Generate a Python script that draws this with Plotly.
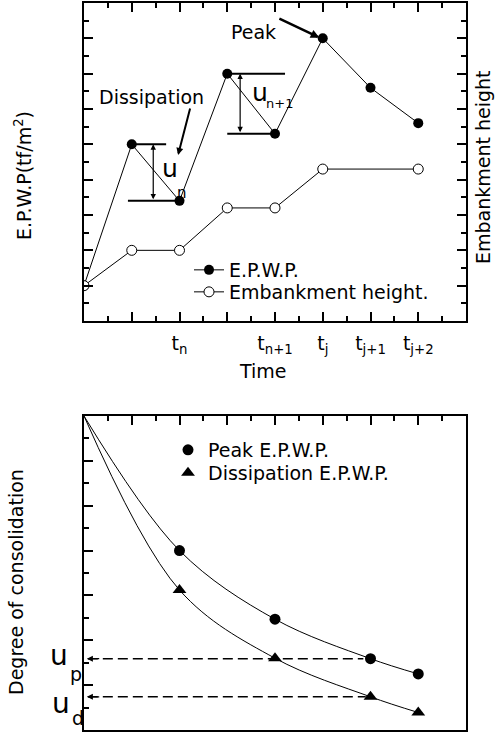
import plotly.graph_objects as go

# ---------------- data ----------------
# top chart: excess pore water pressure and embankment height vs time step
time_idx = [0, 1, 2, 3, 4, 5, 6, 7]
epwp = [1.0, 5.0, 3.4, 7.0, 5.3, 8.0, 6.6, 5.6]
emb_time = [0, 1, 2, 3, 4, 5, 7]
emb_height = [1.0, 2.0, 2.0, 3.2, 3.2, 4.3, 4.3]
tick_pos = [1, 2, 3, 4, 5, 6, 7]
tick_text = ["", "t<sub>n</sub>", "", "t<sub>n+1</sub>", "t<sub>j</sub>",
             "t<sub>j+1</sub>", "t<sub>j+2</sub>"]

# bottom chart: degree of consolidation
cons_time = [0, 2, 4, 6, 7]
peak_cons = [7.0, 4.0, 2.47, 1.59, 1.25]
diss_cons = [7.0, 3.12, 1.60, 0.74, 0.39]

FONT = "DejaVu Sans"
W, H = 496, 732


def px(x):
    return x / W


def py(y):
    return 1 - y / H


fig = go.Figure()

# ---- top chart traces ----
fig.add_trace(go.Scatter(
    x=time_idx, y=epwp, mode="lines+markers", name="E.P.W.P.",
    line=dict(color="black", width=1),
    marker=dict(symbol="circle", size=10, color="black"),
    xaxis="x", yaxis="y", legend="legend"))
fig.add_trace(go.Scatter(
    x=emb_time, y=emb_height, mode="lines+markers", name="Embankment height.",
    line=dict(color="black", width=1),
    marker=dict(symbol="circle", size=10, color="white",
                line=dict(color="black", width=1)),
    xaxis="x", yaxis="y", legend="legend3"))

# ---- bottom chart traces ----
fig.add_trace(go.Scatter(
    x=cons_time, y=peak_cons, mode="lines",
    line=dict(color="black", width=1, shape="spline", smoothing=1.0),
    showlegend=False, xaxis="x2", yaxis="y2", hoverinfo="skip"))
fig.add_trace(go.Scatter(
    x=cons_time, y=diss_cons, mode="lines",
    line=dict(color="black", width=1, shape="spline", smoothing=1.0),
    showlegend=False, xaxis="x2", yaxis="y2", hoverinfo="skip"))
fig.add_trace(go.Scatter(
    x=cons_time[1:], y=peak_cons[1:], mode="markers", name="Peak E.P.W.P.",
    marker=dict(symbol="circle", size=11, color="black"),
    xaxis="x2", yaxis="y2", legend="legend2"))
fig.add_trace(go.Scatter(
    x=cons_time[1:], y=diss_cons[1:], mode="markers", name="Dissipation E.P.W.P.",
    marker=dict(symbol="triangle-up", size=12, color="black"),
    xaxis="x2", yaxis="y2", legend="legend4"))

axis_common = dict(showline=True, linecolor="black", linewidth=2, showgrid=False,
                   zeroline=False, ticks="inside", tickcolor="black", tickwidth=2,
                   ticklen=9)
minor = dict(dtick=0.5, tick0=0, ticks="inside", ticklen=5, tickwidth=1.5, tickcolor="black")

xdom = [px(84), px(466)]


def single_legend(xl, yc):
    return dict(x=px(xl), y=py(yc), xanchor="left", yanchor="middle",
                bgcolor="rgba(0,0,0,0)", font=dict(size=19), tracegroupgap=0)


fig.update_layout(
    width=W, height=H, margin=dict(l=0, r=0, t=0, b=0),
    paper_bgcolor="white", plot_bgcolor="white",
    font=dict(family=FONT, size=19, color="black"),
    xaxis=dict(domain=xdom, range=[0, 8], anchor="y", mirror="allticks",
               tickmode="array", tickvals=tick_pos, ticktext=tick_text,
               tickfont=dict(size=19), ticklabelstandoff=4, minor=minor, **axis_common),
    yaxis=dict(domain=[py(321), py(3)], range=[0, 9], anchor="x", mirror="allticks",
               dtick=1, tick0=0, showticklabels=False, minor=minor, **axis_common),
    xaxis2=dict(domain=xdom, range=[0, 8], anchor="y2", side="top", mirror=True,
                dtick=1, tick0=0, showticklabels=False, minor=minor, **axis_common),
    yaxis2=dict(domain=[py(730), py(416)], range=[0, 7], anchor="x2", mirror=True,
                dtick=1, tick0=0, showticklabels=False, minor=minor, **axis_common),
    legend=single_legend(189, 270),
    legend3=single_legend(189, 292),
    legend2=single_legend(168, 450),
    legend4=single_legend(168, 473),
    showlegend=True,
)

# ---- u_n bars (top chart) ----
shapes = []
bar_style = dict(color="black", width=2)
# first pair: peak at t=1, dissipation at t=2
shapes.append(dict(type="line", xref="x", yref="y", x0=time_idx[1] - 0.08, x1=time_idx[1] + 0.72,
                   y0=epwp[1], y1=epwp[1], line=bar_style))
shapes.append(dict(type="line", xref="x", yref="y", x0=time_idx[1] - 0.08, x1=time_idx[2],
                   y0=epwp[2], y1=epwp[2], line=bar_style))
# second pair: peak at t=3, dissipation at t=4
shapes.append(dict(type="line", xref="x", yref="y", x0=time_idx[3], x1=time_idx[3] + 1.21,
                   y0=epwp[3], y1=epwp[3], line=bar_style))
shapes.append(dict(type="line", xref="x", yref="y", x0=time_idx[3], x1=time_idx[4],
                   y0=epwp[4], y1=epwp[4], line=bar_style))

# ---- dashed u_p / u_d lines (bottom chart) ----
dash_style = dict(color="black", width=1.6, dash="10px,5px")
shapes.append(dict(type="line", xref="x2", yref="y2", x0=0.08, x1=cons_time[3] - 0.15,
                   y0=peak_cons[3], y1=peak_cons[3], line=dash_style))
shapes.append(dict(type="line", xref="x2", yref="y2", x0=0.08, x1=cons_time[3] - 0.1,
                   y0=diss_cons[3], y1=diss_cons[3], line=dash_style))
fig.update_layout(shapes=shapes)

ann = []
# double-headed arrows u_n, u_n+1
ann.append(dict(xref="x", yref="y", axref="x", ayref="y", x=1.45, y=epwp[1], ax=1.45, ay=epwp[2],
                text="", showarrow=True, arrowside="end+start", arrowhead=2, arrowsize=0.9,
                arrowwidth=1.2, arrowcolor="black", standoff=0, startstandoff=0))
ann.append(dict(xref="x", yref="y", axref="x", ayref="y", x=3.27, y=epwp[3], ax=3.27, ay=epwp[4],
                text="", showarrow=True, arrowside="end+start", arrowhead=2, arrowsize=0.9,
                arrowwidth=1.2, arrowcolor="black", standoff=0, startstandoff=0))
# Peak arrow
ann.append(dict(xref="x", yref="y", axref="x", ayref="y", x=4.93, y=8.02, ax=4.06, ay=8.58,
                text="", showarrow=True, arrowhead=2, arrowsize=0.7, arrowwidth=2.5,
                arrowcolor="black", standoff=0))
# Dissipation arrow
ann.append(dict(xref="x", yref="y", axref="x", ayref="y", x=1.97, y=4.70, ax=2.23, ay=6.06,
                text="", showarrow=True, arrowhead=2, arrowsize=0.7, arrowwidth=2,
                arrowcolor="black", standoff=0))


def label(xp, yp, text, size, angle=0):
    return dict(xref="paper", yref="paper", x=px(xp), y=py(yp), text=text,
                xanchor="center", yanchor="middle", textangle=angle,
                showarrow=False, font=dict(size=size))


# text labels (top)
ann.append(label(253.5, 31.5, "Peak", 19))
ann.append(label(151.5, 97, "Dissipation", 19))
ann.append(label(169.7, 168, "u", 25))
ann.append(label(181.7, 193, "n", 15))
ann.append(label(260, 92, "u", 25))
ann.append(label(279, 104, "n+1", 13))
ann.append(label(262.5, 371, "Time", 19))
ann.append(label(23, 176, "E.P.W.P(tf/m<sup>2</sup>)", 19, -90))
ann.append(label(483, 167, "Embankment height", 19, -90))
# bottom chart labels
ann.append(label(16, 582, "Degree of consolidation", 19, -90))
ann.append(label(59, 655, "u", 28))
ann.append(label(76, 674, "p", 19))
ann.append(label(61, 703, "u", 28))
ann.append(label(78, 718, "d", 19))
# arrowheads at the left axis for dashed lines
for yv in (peak_cons[3], diss_cons[3]):
    ann.append(dict(xref="x2", yref="y2", axref="x2", ayref="y2", x=0.06, y=yv, ax=0.35, ay=yv,
                    text="", showarrow=True, arrowhead=2, arrowsize=1, arrowwidth=1.2,
                    arrowcolor="black", standoff=0))
fig.update_layout(annotations=ann)

fig.write_html("out.html")
